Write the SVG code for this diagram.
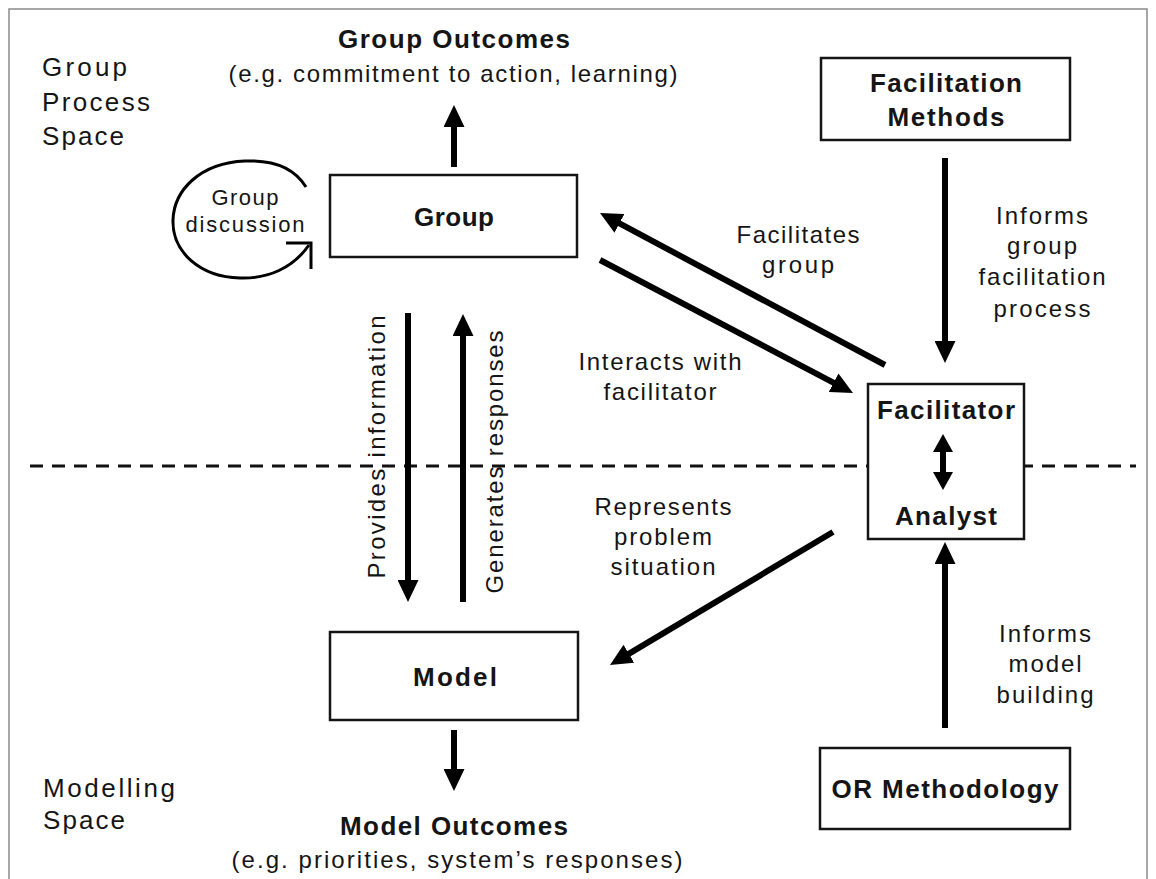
<svg xmlns="http://www.w3.org/2000/svg" width="1156" height="879" viewBox="0 0 1156 879">
<style>
text{font-family:"Liberation Sans",Arial,sans-serif;fill:#151515}
.b{font-weight:bold;font-size:26px}
.n{font-size:24px}
.s{font-size:22px}
.sp{font-size:26px}
.box{fill:#fff;stroke:#151515;stroke-width:2.5}
.arr{stroke:#000;stroke-width:6;fill:none}
</style>
<defs>
<marker id="ah" markerUnits="userSpaceOnUse" markerWidth="22" markerHeight="21" refX="10" refY="10.5" orient="auto">
<path d="M0,0 L22,10.5 L0,21 Z" fill="#000"/>
</marker>
<marker id="ah2" markerUnits="userSpaceOnUse" markerWidth="18" markerHeight="20" refX="8" refY="10" orient="auto-start-reverse">
<path d="M0,0 L18,10 L0,20 Z" fill="#000"/>
</marker>
</defs>
<rect x="0" y="0" width="1156" height="879" fill="#fff"/>
<rect x="9" y="9" width="1138" height="885" fill="none" stroke="#8a8a8a" stroke-width="1.5"/>

<line x1="30" y1="466" x2="1136" y2="466" stroke="#111" stroke-width="3" stroke-dasharray="13 9"/>

<g id="space-labels">
<text class="sp" x="42" y="76" textLength="85">Group</text>
<text class="sp" x="42" y="111" textLength="108">Process</text>
<text class="sp" x="42" y="145" textLength="82">Space</text>
<text class="sp" x="43" y="797" textLength="132">Modelling</text>
<text class="sp" x="43" y="829" textLength="82">Space</text>
</g>

<g id="group-outcomes">
<text class="b" x="454" y="48" text-anchor="middle" textLength="232">Group Outcomes</text>
<text class="n" x="453" y="82" text-anchor="middle" textLength="449">(e.g. commitment to action, learning)</text>
</g>

<g id="model-outcomes">
<text class="b" x="454" y="835" text-anchor="middle" textLength="228">Model Outcomes</text>
<text class="n" x="457" y="868" text-anchor="middle" textLength="451">(e.g. priorities, system’s responses)</text>
</g>

<g id="connectors">
<line class="arr" x1="454" y1="167" x2="454" y2="117" marker-end="url(#ah)"/>
<line class="arr" x1="454" y1="730" x2="454" y2="779" marker-end="url(#ah)"/>
<line class="arr" x1="408" y1="313" x2="408" y2="590" marker-end="url(#ah)"/>
<line class="arr" x1="463" y1="602" x2="463" y2="326" marker-end="url(#ah)"/>
<line class="arr" x1="945" y1="158" x2="945" y2="351" marker-end="url(#ah)"/>
<line class="arr" x1="945" y1="728" x2="945" y2="554" marker-end="url(#ah)"/>
<line class="arr" x1="885" y1="365" x2="610.6" y2="218.7" marker-end="url(#ah)"/>
<line class="arr" x1="600" y1="260" x2="842.4" y2="387.4" marker-end="url(#ah)"/>
<line class="arr" x1="833" y1="532" x2="620.3" y2="658.9" marker-end="url(#ah)"/>
<path d="M306,187 C292,164 268,160 245,161 C200,163 174,190 173,220 C172,252 200,277 240,278 C268,279 293,268 309,245" fill="none" stroke="#000" stroke-width="3"/>
<path d="M286,243 L311,243 L311,269" fill="none" stroke="#000" stroke-width="3"/>
</g>

<g id="group-discussion">
<text class="s" x="245" y="205" text-anchor="middle" textLength="67">Group</text>
<text class="s" x="245" y="232" text-anchor="middle" textLength="119">discussion</text>
</g>

<g id="node-group">
<rect class="box" x="330" y="175" width="247" height="82"/>
<text class="b" x="454" y="226" text-anchor="middle" textLength="80">Group</text>
</g>

<g id="node-model">
<rect class="box" x="330" y="632" width="248" height="88"/>
<text class="b" x="455" y="686" text-anchor="middle" textLength="84">Model</text>
</g>

<g id="node-facilitation-methods">
<rect class="box" x="821" y="58" width="249" height="82"/>
<text class="b" x="946" y="92" text-anchor="middle" textLength="152">Facilitation</text>
<text class="b" x="946" y="126" text-anchor="middle" textLength="117">Methods</text>
</g>

<g id="node-facilitator-analyst">
<rect class="box" x="868" y="384" width="156" height="155"/>
<text class="b" x="946" y="419" text-anchor="middle" textLength="138">Facilitator</text>
<text class="b" x="946" y="525" text-anchor="middle" textLength="102">Analyst</text>
<line x1="943" y1="444" x2="943" y2="480" stroke="#000" stroke-width="6" marker-start="url(#ah2)" marker-end="url(#ah2)"/>
</g>

<g id="node-or-methodology">
<rect class="box" x="820" y="748" width="250" height="81"/>
<text class="b" x="945" y="798" text-anchor="middle" textLength="227">OR Methodology</text>
</g>

<g id="labels">
<text class="n" transform="translate(385,447) rotate(-90)" text-anchor="middle" textLength="263">Provides information</text>
<text class="n" transform="translate(503,462) rotate(-90)" text-anchor="middle" textLength="263">Generates responses</text>
<text class="n" x="798" y="243" text-anchor="middle" textLength="123">Facilitates</text>
<text class="n" x="798" y="273" text-anchor="middle" textLength="72">group</text>
<text class="n" x="660" y="370" text-anchor="middle" textLength="163">Interacts with</text>
<text class="n" x="660" y="400" text-anchor="middle" textLength="113">facilitator</text>
<text class="n" x="663" y="515" text-anchor="middle" textLength="137">Represents</text>
<text class="n" x="663" y="545" text-anchor="middle" textLength="98">problem</text>
<text class="n" x="663" y="575" text-anchor="middle" textLength="105">situation</text>
<text class="n" x="1042" y="224" text-anchor="middle" textLength="92">Informs</text>
<text class="n" x="1042" y="254" text-anchor="middle" textLength="70">group</text>
<text class="n" x="1042" y="285" text-anchor="middle" textLength="127">facilitation</text>
<text class="n" x="1042" y="317" text-anchor="middle" textLength="97">process</text>
<text class="n" x="1045" y="642" text-anchor="middle" textLength="92">Informs</text>
<text class="n" x="1045" y="672" text-anchor="middle" textLength="73">model</text>
<text class="n" x="1045" y="703" text-anchor="middle" textLength="97">building</text>
</g>
</svg>
